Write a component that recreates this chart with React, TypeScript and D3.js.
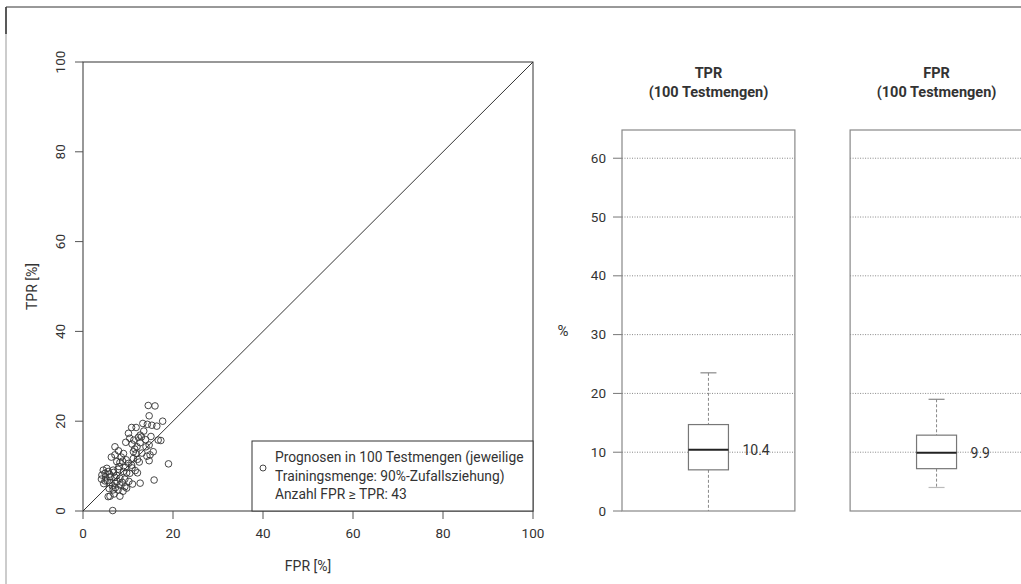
import * as d3 from 'd3';
import React from 'react';

// scatter: one point per test set (FPR %, TPR %)
const fprValues = [
  14.5, 16, 14.7, 17.7, 13.3, 14.3, 15.3, 16.4, 10.8, 11.8,
  10.1, 12.7, 13, 10.4, 11.3, 16.7, 17.3, 7.1, 14.7, 14,
  10.9, 12.7, 12, 7.9, 9, 11.2, 11.8, 15.6, 14.9, 14.2,
  7.1, 11.2, 12.1, 14.7, 7.5, 8.2, 19, 10.1, 10.8, 5.3,
  4.5, 5.6, 4.9, 4.2, 6.7, 7.8, 9, 9.7, 10.4, 12.1,
  6, 7.1, 8.2, 9.3, 4.1, 4.9, 6, 7.1, 8.2, 9.3,
  12.7, 15.8, 6.7, 7.8, 9.7, 5.6, 6, 8.2, 6.6,
  13.5, 12.3, 13.9, 9.5, 15.1, 8.5, 9.6, 11.5, 13.1, 8.8,
  12.5, 6.3, 5.9, 6.8, 8, 10.9, 7.5, 11.6, 9.4, 5,
  5.4, 6.5, 7.6, 8.7, 10.2, 7.2, 5.8, 8.9, 6.9, 11, 4.6,
];
const tprValues = [
  23.5, 23.4, 21.2, 20, 19.5, 19.3, 19.1, 18.9, 18.6, 18.6,
  17.3, 16.9, 16.5, 16.2, 15.8, 15.8, 15.7, 14.3, 14.7, 14.3,
  14.9, 15.2, 14.3, 13.4, 12.8, 13.2, 12.8, 13.2, 12.5, 12.2,
  12.5, 11.7, 11.5, 11.2, 11, 10.8, 10.5, 10.6, 10.2, 9.5,
  9.1, 8.8, 8.4, 8, 9.1, 9.3, 8.8, 8.5, 8.4, 8.5,
  7.6, 7.5, 7.3, 7.1, 7.1, 6.7, 6.3, 6.2, 5.8, 5.4,
  6.2, 6.9, 4.7, 4.7, 5.1, 3.2, 3.3, 3.3, 0.1,
  17.8, 16.4, 15.9, 15.3, 16.6, 12, 11.4, 13.8, 12.9, 11.1,
  10.9, 12, 8.2, 8.6, 9.9, 9.6, 7.9, 9, 9.7, 7.6,
  6.8, 5.6, 6.6, 6.4, 6.6, 5.2, 5, 4.4, 3.8, 6, 6.1,
];

const scatterTicks = [0, 20, 40, 60, 80, 100];
const legendLines = [
  'Prognosen in 100 Testmengen (jeweilige',
  'Trainingsmenge: 90%-Zufallsziehung)',
  'Anzahl FPR \u2265 TPR: 43',
];

// box plots: [min, q1, median, q3, max]
const boxNames = ['TPR', 'FPR'];
const boxSubtitle = '(100 Testmengen)';
const boxStats = [
  [0, 7.0, 10.4, 14.7, 23.5],
  [4.0, 7.2, 9.9, 12.9, 19.0],
];
const medianLabels = ['10.4', '9.9'];
const boxTicks = [0, 10, 20, 30, 40, 50, 60];

const W = 1021;
const H = 584;
const FONT = 'Roboto, "DejaVu Sans", sans-serif';
const TEXT = '#333';

function Scatter() {
  const x = d3.scaleLinear().domain([0, 100]).range([83, 533]);
  const y = d3.scaleLinear().domain([0, 100]).range([511, 62]);
  const [x0, x1] = x.range();
  const [y0, y1] = y.range();
  const lx = 252;
  const ly = 441;
  return (
    <g fontFamily={FONT} fontSize={13.5} fill={TEXT}>
      <rect x={x0} y={y1} width={x1 - x0} height={y0 - y1} fill="none" stroke="#333" />
      <line x1={x(0)} y1={y(0)} x2={x(100)} y2={y(100)} stroke="#333" />
      {scatterTicks.map((t) => (
        <g key={'x' + t}>
          <line x1={x(t)} x2={x(t)} y1={y0} y2={y0 + 8} stroke="#555" />
          <text x={x(t)} y={y0 + 27} textAnchor="middle">{t}</text>
        </g>
      ))}
      {scatterTicks.map((t) => (
        <g key={'y' + t}>
          <line x1={x0 - 8} x2={x0} y1={y(t)} y2={y(t)} stroke="#555" />
          <text
            transform={`translate(${x0 - 18},${y(t)}) rotate(-90)`}
            textAnchor="middle"
          >
            {t}
          </text>
        </g>
      ))}
      <text x={(x0 + x1) / 2} y={571} textAnchor="middle" fontSize={14}>FPR [%]</text>
      <text transform={`translate(37,${(y0 + y1) / 2}) rotate(-90)`} textAnchor="middle" fontSize={14}>
        TPR [%]
      </text>
      <rect x={lx} y={ly} width={x1 - lx} height={y0 - ly} fill="#fff" stroke="#333" />
      <circle cx={lx + 11} cy={ly + 27} r={3} fill="none" stroke="#333" strokeWidth={0.9} />
      {legendLines.map((s, i) => (
        <text key={s} x={lx + 23} y={ly + 21 + i * 18.5} fontSize={13.8}>{s}</text>
      ))}
      {fprValues.map((f, i) => (
        <circle
          key={i}
          cx={x(f)}
          cy={y(tprValues[i])}
          r={3.3}
          fill="none"
          stroke="#333"
          strokeWidth={0.9}
        />
      ))}
    </g>
  );
}

function BoxPanels() {
  const y = d3.scaleLinear().domain([0, 64.8]).range([511, 130]);
  const panelX = d3.scaleBand().domain(boxNames).range([622, 1023]).paddingInner(0.242);
  const bw = panelX.bandwidth();
  return (
    <g fontFamily={FONT} fontSize={13.5} fill={TEXT}>
      {boxTicks.map((t) => (
        <g key={t}>
          <line x1={613} x2={622} y1={y(t)} y2={y(t)} stroke="#777" />
          <text x={606} y={y(t) + 4.5} textAnchor="end">{t}</text>
        </g>
      ))}
      <text x={563} y={336} textAnchor="middle" fontSize={15}>%</text>
      {boxNames.map((name, i) => {
        const px = panelX(name)!;
        const cx = px + bw / 2;
        const [mn, q1, med, q3, mx] = boxStats[i];
        return (
          <g key={name}>
            <text x={cx} y={78} textAnchor="middle" fontWeight="bold" fontSize={14.5}>{name}</text>
            <text x={cx} y={97} textAnchor="middle" fontWeight="bold" fontSize={14.5}>{boxSubtitle}</text>
            {boxTicks.filter((t) => t > 0).map((t) => (
              <line
                key={t}
                x1={px}
                x2={px + bw}
                y1={y(t)}
                y2={y(t)}
                stroke="#888"
                strokeDasharray="1,1.5"
              />
            ))}
            <rect x={px} y={y.range()[1]} width={bw} height={y(0) - y.range()[1]} fill="none" stroke="#888" strokeWidth={1.2} />
            <line x1={cx} x2={cx} y1={y(mx)} y2={y(q3)} stroke="#888" strokeDasharray="3,2" />
            <line x1={cx} x2={cx} y1={y(q1)} y2={y(mn)} stroke="#888" strokeDasharray="3,2" />
            <line x1={cx - 8} x2={cx + 8} y1={y(mx)} y2={y(mx)} stroke="#888" strokeWidth={1.2} />
            <line x1={cx - 8} x2={cx + 8} y1={y(mn)} y2={y(mn)} stroke={mn > 0 ? '#bbb' : 'none'} strokeWidth={1.2} />
            <rect x={cx - 20} y={y(q3)} width={40} height={y(q1) - y(q3)} fill="#fff" stroke="#777" strokeWidth={1.2} />
            <line x1={cx - 20} x2={cx + 20} y1={y(med)} y2={y(med)} stroke="#222" strokeWidth={2} />
            <text x={cx + 34} y={y(med) + 5} fontSize={14}>{medianLabels[i]}</text>
          </g>
        );
      })}
    </g>
  );
}

export default function App() {
  return (
    <svg
      width={W}
      height={H}
      style={{ position: 'absolute', left: 0, top: 0, background: '#fff' }}
    >
      <line x1={6} x2={W} y1={7} y2={7} stroke="#333" />
      <line x1={6} x2={6} y1={7} y2={H} stroke="#999" />
      <line x1={6} x2={6} y1={7} y2={34} stroke="#333" strokeWidth={1.5} />
      <Scatter />
      <BoxPanels />
    </svg>
  );
}
